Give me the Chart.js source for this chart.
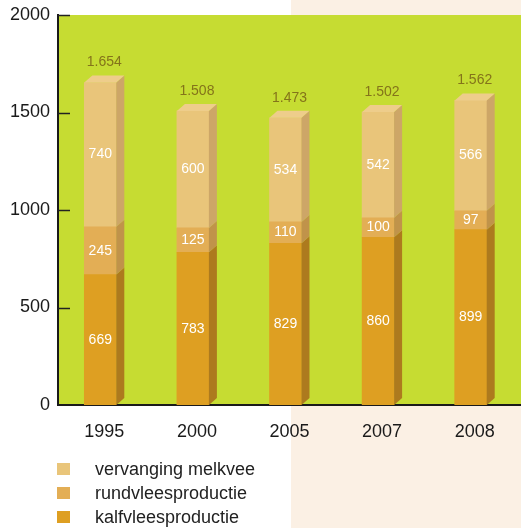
<!DOCTYPE html>
<html>
<head>
<meta charset="utf-8">
<script src="https://cdn.jsdelivr.net/npm/chart.js@4.4.1/dist/chart.umd.min.js"></script>
<style>
body { margin: 0; background: #fff; }
#wrap { position: relative; width: 521px; height: 528px; overflow: hidden; font-family: "Liberation Sans", Arial, sans-serif; }
#beige { position: absolute; left: 291px; top: 0; width: 230px; height: 528px; background: #fbf0e4; }
canvas { position: absolute; left: 0; top: 0; }
#legend { position: absolute; left: 57px; top: 457px; }
.item { display: flex; align-items: center; height: 24px; font-size: 18px; color: #222; }
.sw { width: 13px; height: 12px; margin-right: 25px; }
</style>
</head>
<body>
<div id="wrap">
  <div id="beige"></div>
  <canvas id="myChart" width="521" height="528"></canvas>
  <div id="legend"></div>
</div>
<script>
// data
const jaren = ['1995', '2000', '2005', '2007', '2008'];
const kalfvlees = [669, 783, 829, 860, 899];
const rundvlees = [245, 125, 110, 100, 97];
const melkvee = [740, 600, 534, 542, 566];
const yTicks = [0, 500, 1000, 1500, 2000];

const namen = ['kalfvleesproductie', 'rundvleesproductie', 'vervanging melkvee'];
const voorkant = ['#de9f22', '#e3ae55', '#e9c57a'];
const zijkant = ['#ad7a1e', '#c0934a', '#cda667'];
const bovenkant = ['#e4a83a', '#e8b869', '#eecd8b'];

const DX = 8, DY = 7, SHIFT = -4;
const fam = '"Liberation Sans", Arial, sans-serif';

const drieD = {
    id: 'drieD',
    beforeDraw(chart) {
        const { ctx, chartArea: a } = chart;
        ctx.save();
        ctx.fillStyle = '#c6dc32';
        ctx.fillRect(a.left, a.top, a.right - a.left, a.bottom - a.top);
        ctx.restore();
    },
    beforeDatasetsDraw(chart) {
        chart.ctx.save();
        chart.ctx.translate(SHIFT, 0);
    },
    afterDatasetsDraw(chart) {
        const ctx = chart.ctx;
        const nSets = chart.data.datasets.length;
        for (let i = 0; i < jaren.length; i++) {
            let totaal = 0;
            let topEl = null;
            for (let d = 0; d < nSets; d++) {
                const el = chart.getDatasetMeta(d).data[i];
                const xl = el.x - el.width / 2, xr = el.x + el.width / 2;
                const yt = el.y, yb = el.base;
                ctx.fillStyle = zijkant[d];
                ctx.beginPath();
                ctx.moveTo(xr, yt);
                ctx.lineTo(xr + DX, yt - DY);
                ctx.lineTo(xr + DX, yb - DY);
                ctx.lineTo(xr, yb);
                ctx.closePath();
                ctx.fill();
                if (d === nSets - 1) {
                    ctx.fillStyle = bovenkant[d];
                    ctx.beginPath();
                    ctx.moveTo(xl, yt);
                    ctx.lineTo(xl + DX, yt - DY);
                    ctx.lineTo(xr + DX, yt - DY);
                    ctx.lineTo(xr, yt);
                    ctx.closePath();
                    ctx.fill();
                    topEl = el;
                }
                const v = chart.data.datasets[d].data[i];
                totaal += v;
                ctx.fillStyle = '#fff';
                ctx.font = '14px ' + fam;
                ctx.textAlign = 'center';
                ctx.textBaseline = 'middle';
                ctx.fillText(String(v), el.x, (yt + yb) / 2);
            }
            const s = String(totaal);
            const txt = s.length > 3 ? s.slice(0, -3) + '.' + s.slice(-3) : s;
            ctx.fillStyle = '#84741a';
            ctx.font = '14px ' + fam;
            ctx.textAlign = 'center';
            ctx.textBaseline = 'middle';
            ctx.fillText(txt, topEl.x + DX / 2, topEl.y - DY - 13);
        }
        ctx.restore();

        // tick marks on the inside of the y axis
        const y = chart.scales.y;
        const a = chart.chartArea;
        ctx.save();
        ctx.strokeStyle = '#222';
        ctx.lineWidth = 1.5;
        yTicks.forEach(t => {
            if (t === 0) return;
            const py = Math.round(y.getPixelForValue(t)) + 0.5;
            ctx.beginPath();
            ctx.moveTo(a.left, py);
            ctx.lineTo(a.left + 12, py);
            ctx.stroke();
        });
        ctx.restore();
    }
};

new Chart(document.getElementById('myChart').getContext('2d'), {
    type: 'bar',
    data: {
        labels: jaren,
        datasets: [
            { label: namen[0], data: kalfvlees, backgroundColor: voorkant[0] },
            { label: namen[1], data: rundvlees, backgroundColor: voorkant[1] },
            { label: namen[2], data: melkvee, backgroundColor: voorkant[2] }
        ]
    },
    options: {
        responsive: false,
        animation: false,
        layout: { padding: { top: 15, left: 0, right: 0, bottom: 0 } },
        datasets: { bar: { barThickness: 32 } },
        plugins: { legend: { display: false }, tooltip: { enabled: false } },
        scales: {
            x: {
                stacked: true,
                grid: { display: false, drawTicks: false },
                border: { display: true, color: '#1a1a1a', width: 2 },
                ticks: { color: '#1a1a1a', font: { size: 18, family: fam }, padding: 16 },
                afterFit: s => { s.height = 123; s.paddingLeft = 0; s.paddingRight = 0; }
            },
            y: {
                stacked: true,
                min: 0,
                max: 2000,
                afterBuildTicks: s => { s.ticks = yTicks.map(v => ({ value: v })); },
                grid: { display: false, drawTicks: false },
                border: { display: true, color: '#1a1a1a', width: 2 },
                ticks: { color: '#1a1a1a', font: { size: 18, family: fam }, padding: 8, callback: v => String(v) },
                afterFit: s => { s.width = 58; s.paddingTop = 0; s.paddingBottom = 0; }
            }
        }
    },
    plugins: [drieD]
});

// legend, top series first
const legend = document.getElementById('legend');
for (let d = namen.length - 1; d >= 0; d--) {
    legend.innerHTML += `<div class="item"><span class="sw" style="background:${voorkant[d]}"></span>${namen[d]}</div>`;
}
</script>
</body>
</html>
